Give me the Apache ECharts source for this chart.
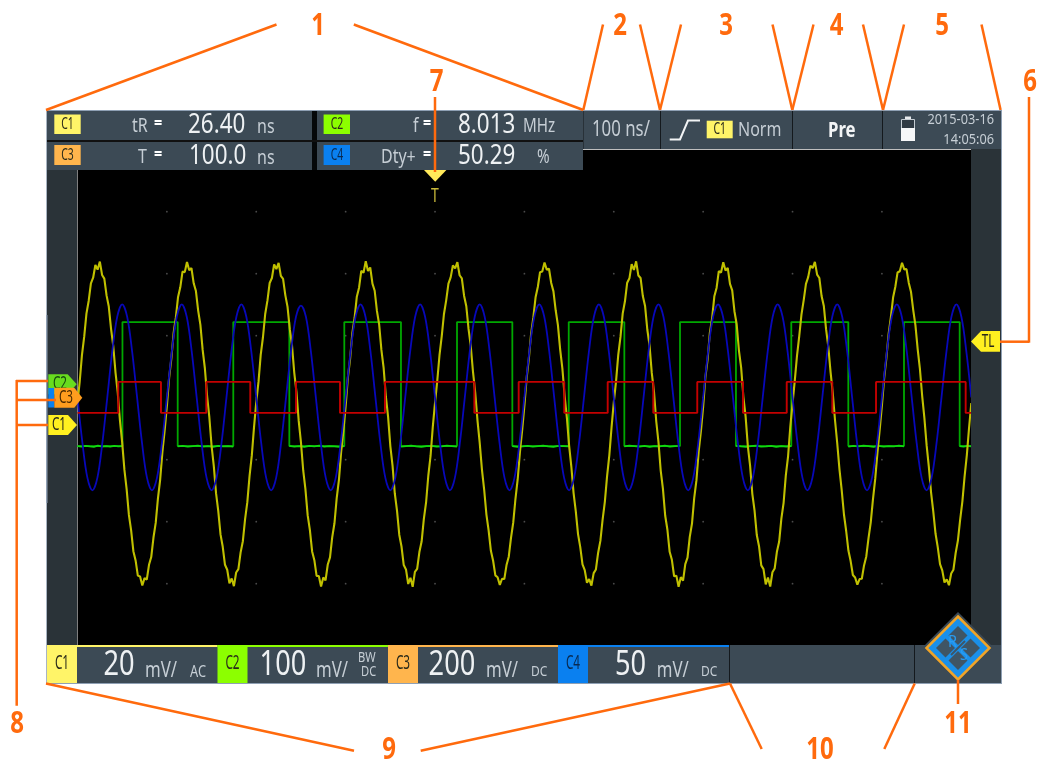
<!DOCTYPE html>
<html>
<head>
<meta charset="utf-8">
<style>html,body{margin:0;padding:0;background:#fff}#c{width:1037px;height:760px}</style>
<script src="https://cdn.jsdelivr.net/npm/echarts@6/dist/echarts.min.js"></script>
</head>
<body>
<div id="c"></div>
<script>
// ---- time axis (ns) ----
const timeMin = -400, timeMax = 600, timeDiv = 100;
const gridTimes = [-300,-200,-100,0,100,200,300,400,500];
const gridDivs = [-3,-2,-1,0,1,2,3];

// ---- C1 yellow: noisy sine, mV, every 2.5 ns from -400 ns ----
const c1Step = 2.5;
const c1Values = [
 6.9,13.8,22.3,28.2,35.6,39.7,45.4,47.2,51.3,49.8,52.4,48.1,46.9,41.5,37.9,30.8,25.2,16.7,10.2,1.1,
 -6,-14.8,-21.1,-29.3,-34.3,-41,-44,-48.9,-49.2,-52.1,-49.7,-50.2,-45.4,-42.9,-36.6,-31.9,-24,-17.9,-9,-2.1,
 5.8,14.9,21.1,29.3,34.3,41,44.1,49.2,49,52.3,49.6,50.3,45.4,42.9,36.6,32,24,18,9,2.2,
 -7,-13.6,-22.3,-28.1,-35.6,-39.6,-45.4,-47,-51.4,-49.8,-52.3,-47.9,-46.8,-41.4,-37.8,-30.7,-25.2,-16.7,-10.2,-1,
 7.1,13.6,22.4,28,35.5,39.8,45.5,47.1,51.5,50,52,47.8,46.8,41.6,37.8,30.6,25.3,16.6,10.3,1,
 -5.9,-14.9,-21,-29.4,-34.2,-41.1,-43.9,-49,-49,-52.4,-49.5,-50.4,-45.3,-43,-36.5,-32,-23.9,-18,-8.9,-2.2,
 5.7,15,21,29.4,34.2,41.1,44,49.4,48.8,52.5,49.4,50.5,45.3,43,36.5,32.1,23.9,18.1,8.9,2.3,
 -7.1,-13.5,-22.4,-28,-35.7,-39.5,-45.5,-46.9,-51.6,-49.6,-52.5,-47.7,-46.7,-41.3,-37.9,-30.6,-25.3,-16.6,-10.3,-.9,
 6.8,13.9,22.2,28.3,35.5,39.9,45.3,47.3,51.2,50.2,52.2,48,47,41.4,38,30.7,25.1,16.8,10.1,1.2,
 -6.1,-14.7,-21.2,-29.2,-34.4,-40.9,-44.1,-48.8,-49.4,-51.9,-49.9,-50,-45.5,-42.8,-36.7,-31.8,-24.1,-17.8,-9.1,-2,
 5.9,14.8,21.2,29.2,34.4,40.9,44.2,49,49.2,52.1,49.8,50.1,45.5,42.8,36.7,31.9,24.1,17.9,9.1,2.1,
 -6.9,-13.7,-22.2,-28.2,-35.5,-39.7,-45.3,-47.1,-51.2,-50,-52.1,-48.1,-46.9,-41.5,-37.7,-30.8,-25.1,-16.8,-10.1,-1.1,
 7,13.7,22.3,28.1,35.7,39.6,45.6,47,51.6,49.7,52.5,47.9,47.1,41.3,38.1,30.5,25.4,16.5,10.4,.9,
 -5.8,-15,-20.9,-29.5,-34.1,-41.2,-43.8,-49.1,-48.9,-52.5,-49.4,-50.5,-45.2,-43.1,-36.4,-32.1,-23.8,-18.1,-8.8,-2.3,
 5.6,15.1,20.9,29.5,34.1,41.2,43.9,49.3,48.9,52.2,49.5,50.4,45.2,43.1,36.4,32.2,23.8,18.2,8.8,2.4,
 -7.2,-13.4,-22.5,-27.9,-35.8,-39.4,-45.6,-46.8,-51.7,-49.5,-52.4,-47.8,-46.6,-41.2,-38,-30.5,-25.4,-16.5,-10.4,-.8,
 6.7,14,22.1,28.4,35.4,40,45.2,47.4,51.1,50.3,52.3,48.2,47.1,41.3,38.1,30.6,25,16.9,10,1.3,
 -6.2,-14.6,-21.3,-29.1,-34.5,-40.8,-44.2,-48.7,-49.5,-51.8,-50,-49.9,-45.6,-42.7,-36.8,-31.7,-24.2,-17.7,-9.2,-1.9,
 6,14.7,21.3,29.1,34.5,40.8,44.3,48.9,49.3,52,49.9,50,45.6,42.7,36.8,31.8,24.2,17.8,9.2,2,
 -6.8,-13.8,-22.1,-28.3,-35.4,-39.8,-45.2,-47.2,-51.1,-50.1,-52,-48.2,-47,-41.6,-37.6,-30.9,-25,-16.9,-10,-1.2,
 6.8
];

// ---- C2 green: square edges (ns) and levels (mV) ----
const c2Edges = [-400,-349.7,-287.9,-225.7,-163,-101.5,-38.1,24.6,86.5,149.6,211.8,274.1,336.7,398.6,462.4,524.7,587,600];
const c2Levels = [-100,100,-100,100,-100,100,-100,100,-100,100,-100,100,-100,100,-100,100,-100,-100];
// noisy low level of C2, read per low segment
const c2LowSpans = [[-400,-349.7],[-287.9,-225.7],[-163,-101.5],[-38.1,24.6],[86.5,149.6],[211.8,274.1],[336.7,398.6],[462.4,524.7],[587,600]];
const c2LowValues = [
 [-100,-101,-99.6,-100.6,-101.2,-99.4,-100.8,-100,-101,-99.6,-100.6,-100],
 [-100.6,-99.6,-101,-100,-99.4,-101,-100,-101.2,-99.6,-100.6,-100,-101],
 [-99.6,-101,-100,-101.2,-99.6,-100.6,-99.4,-101,-100,-100.6,-101.2,-100],
 [-101,-100,-99.4,-100.6,-101.2,-100,-99.6,-101,-100.6,-99.4,-100,-101],
 [-100,-101.2,-100.6,-99.6,-101,-100,-99.4,-100.6,-101.2,-99.6,-100,-100.6],
 [-100.6,-99.4,-100,-101,-99.6,-101.2,-100,-100.6,-99.4,-101,-100,-99.6],
 [-99.6,-100.6,-101.2,-100,-99.4,-101,-100.6,-99.6,-101.2,-100,-101,-100],
 [-101,-99.6,-100.6,-99.4,-100,-101.2,-99.6,-101,-100,-100.6,-99.4,-100.6],
 [-100,-101,-99.6,-100.6]
];

// ---- C3 red: square edges (ns) and levels (mV) ----
const c3Edges = [-400,-354.4,-306.6,-255.9,-206.7,-155.5,-106.3,-56,44,93.6,144.6,193.2,244.2,293.4,344.6,393.5,444.5,493.4,593.7,600];
const c3Levels = [-50,50,-50,50,-50,50,-50,50,-50,50,-50,50,-50,50,-50,50,-50,50,-50,-50];

// ---- C4 blue: sine, mV, 180 samples across the screen ----
const c4Samples = 180;
const c4Values = [
 0,-37,-65,-75,-65,-37,0,37,65,75,65,37,
 0,-37,-65,-75,-65,-37,0,37,65,75,65,37,
 0,-37,-65,-75,-65,-37,0,37,65,75,65,37,
 0,-37,-65,-75,-65,-37,0,37,65,74,65,37,
 0,-37,-65,-75,-65,-37,0,37,65,75,65,37,
 0,-37,-65,-75,-65,-37,0,37,65,75,65,37,
 0,-37,-65,-75,-65,-37,0,37,65,75,65,37,
 0,-37,-65,-75,-65,-37,0,37,65,75,65,37,
 0,-37,-65,-75,-65,-37,0,37,65,75,65,37,
 0,-37,-65,-75,-65,-37,0,37,65,75,65,37,
 0,-37,-65,-75,-65,-37,0,37,65,75,65,37,
 0,-37,-65,-75,-65,-37,0,37,65,75,65,37,
 0,-37,-65,-75,-65,-37,0,37,65,75,65,37,
 0,-37,-65,-75,-65,-37,0,37,65,75,65,37,
 0,-37,-65,-75,-65,-37,0,37,65,75,65,37,
 0
];

// ---- palette ----
const ink = '#ff6a0d', panel = '#3c4a55', side = '#2a3338', edge = '#8fa0b4';
const cY = '#fff468', cG = '#8cff00', cO = '#ffb54d', cB = '#0a80f0';
const face = '"Noto Sans","Open Sans",sans-serif';

const g = [];
function R(x, y, w, h, fill, z) { g.push({type:'rect', z: z||10, shape:{x, y, width:w, height:h}, style:{fill}, silent:true}); }
function T(text, x, y, size, fill, o) { o = o||{};
  g.push({type:'text', z: o.z||20, x, y, scaleX:o.sx||0.8, silent:true, style:{text, fill, font:(o.bold?'bold ':'')+size+'px '+face,
    textAlign:o.align||'left', textVerticalAlign:'middle'}}); }
function L(x1, y1, x2, y2, stroke, w, z) { g.push({type:'line', z: z||30, silent:true, shape:{x1, y1, x2, y2}, style:{stroke, lineWidth:w||2}}); }
function P(points, fill, z, stroke, w) { g.push({type:'polygon', z: z||15, silent:true, shape:{points}, style:{fill, stroke: stroke||null, lineWidth:w||0}}); }

// frame
R(46, 110, 956, 1, edge, 12);
R(47, 170, 30, 475, side); R(971, 149, 30, 496, side);
R(46, 111, 1, 572, '#a8b4c2', 12); R(46, 315, 1.5, 188, edge, 12);
R(1001, 111, 1, 572, edge, 12);
// measurement panels
R(47, 111, 536, 59, '#14191d', 9);
R(47, 111, 265, 29, panel); R(47, 142, 265, 28, panel);
R(317, 111, 266, 29, panel); R(317, 142, 266, 28, panel);
R(312, 111, 5, 59, '#05080a'); R(47, 140, 536, 2, '#111');
R(54.3, 114.5, 26.4, 19.5, cY, 12); R(54.3, 145, 26.4, 20, cO, 12);
R(323.6, 114.5, 26.4, 19.5, cG, 12); R(323.6, 145, 26.4, 20, cB, 12);
const badge = '#2a2a1a', bs = {align:'center', sx:.65};
T('C1', 67.5, 124.5, 16, badge, bs); T('C3', 67.5, 155.5, 16, badge, bs);
T('C2', 337, 124.5, 16, badge, bs); T('C4', 337, 155.5, 16, '#0a2a50', bs);
const lab = '#c6ced5', val = '#eef1f3';
T('tR', 132, 126, 20, lab); T('=', 154, 124, 18, '#fff', {bold:true});
T('26.40', 188, 125, 28, val); T('ns', 257, 127, 20, lab);
T('T', 138, 157, 20, lab); T('=', 154, 155, 18, '#fff', {bold:true});
T('100.0', 189, 156, 28, val); T('ns', 257, 158, 20, lab);
T('f', 413, 126, 20, lab); T('=', 423, 124, 18, '#fff', {bold:true});
T('8.013', 458, 125, 28, val); T('MHz', 523, 127, 19, lab, {sx:.8});
T('Dty+', 381, 157, 20, lab); T('=', 423, 155, 18, '#fff', {bold:true});
T('50.29', 458, 156, 28, val); T('%', 537, 158, 19, lab);
// top-right panels
R(583, 111, 418, 38, '#14191d', 9);
R(583.5, 111, 76.5, 38, panel); R(661, 111, 131, 38, panel); R(793, 111, 89, 38, panel); R(883, 111, 118, 38, panel);
T('100 ns/', 592, 130, 21, lab);
g.push({type:'polyline', z:20, silent:true, shape:{points:[[669.7,139.5],[680,139.5],[688,120.5],[700,120.5]]}, style:{stroke:'#f2f4f5', lineWidth:2, fill:null}});
R(706.7, 120.7, 26, 17.6, cY, 12); T('C1', 719.7, 129.5, 16, badge, bs);
T('Norm', 738, 130, 20, lab);
T('Pre', 828, 131, 21, '#f2f4f5', {bold:true});
R(905, 116.5, 6, 2.5, '#e8ebee', 12);
g.push({type:'rect', z:12, silent:true, shape:{x:901.5, y:119.5, width:13, height:21}, style:{fill:'#2f3a43', stroke:'#c4ccd2', lineWidth:1}});
R(901, 128, 14, 13, '#f6f7f8', 13);
const ds = {align:'right', sx:.88};
T('2015-03-16', 994, 119.5, 14.5, lab, ds); T('14:05:06', 994, 140, 14.5, lab, ds);
// bottom bar
R(47, 645, 954, 38, panel);
const segs = [[47,217.5,cY],[217.5,388,cG],[388,558,cO],[558,729,cB]];
segs.forEach(s => { R(s[0], 645, s[1]-s[0], 2, s[2], 12); R(s[0], 645, 30, 38, s[2], 12); });
R(729, 645, 1, 38, '#14191d', 13); R(914, 645, 1, 38, '#14191d', 13);
R(46, 683, 956, 1, edge, 12);
const b2 = {align:'center', sx:.62};
T('C1', 62, 664, 19, badge, b2); T('C2', 232.5, 664, 19, badge, b2);
T('C3', 403, 664, 19, badge, b2); T('C4', 573, 664, 19, '#0a2a50', b2);
T('20', 103.5, 665, 34, val); T('mV/', 145, 671, 21, lab); T('AC', 190, 672, 16, lab);
T('100', 259.6, 665, 34, val); T('mV/', 316, 671, 21, lab); T('BW', 358, 658, 14, lab); T('DC', 361, 672, 14, lab);
T('200', 428.6, 665, 34, val); T('mV/', 486, 671, 21, lab); T('DC', 531, 672, 15, lab);
T('50', 615, 665, 34, val); T('mV/', 656.7, 671, 21, lab); T('DC', 701, 672, 15, lab);
// logo
const lx = 958, ly = 648;
const dia = (cx, cy, r) => [[cx,cy-r],[cx+r,cy],[cx,cy+r],[cx-r,cy]];
P(dia(lx, ly, 36), panel, 40);
P(dia(lx, ly, 31.5), '#1a90ea', 41, '#f0a428', 2.5);
[[0,-12.5],[12.5,0],[0,12.5],[-12.5,0]].forEach(o => P(dia(lx+o[0], ly+o[1], 9.5), '#3f5565', 42));
L(lx+7, ly-7, lx-7, ly+7, '#3f5565', 2, 43);
const lg = {z:44, align:'center', sx:.85};
T('R', 952.5, 642, 17, '#2a9cf0', lg); T('S', 964, 655, 17, '#2a9cf0', lg);
// channel markers
function pent(x, y, w, h, tip) { return [[x,y],[x+w-tip,y],[x+w,y+h/2],[x+w-tip,y+h],[x,y+h]]; }
const mk = (z) => ({z, align:'center', sx:.65});
P(pent(48.3, 374.3, 28.4, 20, 9), '#68dc1e', 50);
T('C2', 60, 384, 18, '#164a10', mk(51));
R(48.3, 388, 6, 19.5, cB, 52);
P(pent(54.3, 387.7, 28, 20, 8), '#ff9d1e', 53);
T('C3', 66, 398, 18, '#4a2a00', mk(54));
P(pent(48.3, 415, 28.7, 20, 9), '#fff020', 50);
T('C1', 59, 425, 18, badge, mk(51));
P([[971,341.5],[981,331],[1000,331],[1000,351.7],[981,351.7]], '#fff020', 50);
T('TL', 988, 342, 18, badge, mk(51));
P([[424,170],[446.4,170],[435.2,181.7]], '#ffe95a', 50);
T('T', 435, 196, 20, '#c8b83a', {z:51, align:'center', sx:.7});
// callouts
[[46,110,276.5,24.5],[353.8,24.5,583.3,110],[603,24.5,583.3,110],[640,24.5,660,110],[681,24.5,660,110],
 [772.5,24.5,792.3,110],[813.5,24.5,792.3,110],[863,24.5,883,110],[904,24.5,883,110],[981.5,24.5,1000.6,110],
 [435,97,435,172],[1000,341.7,1029,341.7],[1029,97,1029,342.7],
 [16.7,380,16.7,705.7],[16,381,48,381],[16,400,56,400],[16,425,48,425],
 [46,683.5,354,750.7],[420.7,750.7,730,683.5],[730,683.5,761.7,749],[914.7,683.5,884.3,749],[958,680,958,704]
].forEach(a => L(a[0], a[1], a[2], a[3], ink, 2.5, 60));
const big = {bold:true, align:'center', z:61};
[['1',318,26],['2',620,26],['3',726,26],['4',836.6,26],['5',942,26],['6',1030,82],['7',436.5,82],
 ['8',17,724],['9',389,750],['10',820,750],['11',958,724]].forEach(a => T(a[0], a[1], a[2], 30, ink, big));

// ---- build series from the arrays ----
const c1Data = c1Values.map((v,i) => [timeMin + i*c1Step, v]);
const c2Data = c2Edges.map((t,i) => [t, c2Levels[i]]);
const c2LowData = [];
c2LowSpans.forEach((sp,k) => { const vs = c2LowValues[k];
  vs.forEach((v,i) => c2LowData.push([sp[0] + i*(sp[1]-sp[0])/(vs.length-1), v]));
  c2LowData.push([sp[1], null]); });
const c3Data = c3Edges.map((t,i) => [t, c3Levels[i]]);
const c4Data = c4Values.map((v,i) => [timeMin + i*(timeMax-timeMin)/c4Samples, v]);
const dots = []; gridTimes.forEach(t => gridDivs.forEach(d => dots.push([t,d])));

const hid = (min,max) => ({type:'value', min, max, show:false, scale:false, splitLine:{show:false}});
const line = (name, yi, data, color, w, extra) => Object.assign({name, type:'line', xAxisIndex:0, yAxisIndex:yi, data, showSymbol:false,
  symbol:'none', silent:true, animation:false, lineStyle:{color, width:w}, clip:true}, extra||{});

const chart = echarts.init(document.getElementById('c'), null, {renderer:'canvas'});
chart.setOption({
  animation:false, backgroundColor:'#fff',
  grid:{left:77.5, top:149.7, width:893.8, height:496, show:true, backgroundColor:'#000', borderWidth:0},
  xAxis:{type:'value', min:timeMin, max:timeMax, interval:timeDiv, show:false, splitLine:{show:false}},
  yAxis:[hid(-71.5,88.5), hid(-422,378), hid(-801,799), hid(-200.3,199.7), hid(-4,4)],
  series:[
    {name:'grid', type:'scatter', yAxisIndex:4, data:dots, symbolSize:1.8, silent:true, itemStyle:{color:'#5e5e5e'}, animation:false},
    line('C2',1,c2Data,'#00a800',1.8,{step:'end'}),
    line('C2 low',1,c2LowData,'#10d810',1.8),
    line('C1',0,c1Data,'#c0c000',2.1),
    line('C4',3,c4Data,'#0808b8',1.8,{smooth:0.35}),
    line('C3',2,c3Data,'#c40000',1.9,{step:'end'})
  ],
  graphic:{elements:g}
});
</script>
</body>
</html>
